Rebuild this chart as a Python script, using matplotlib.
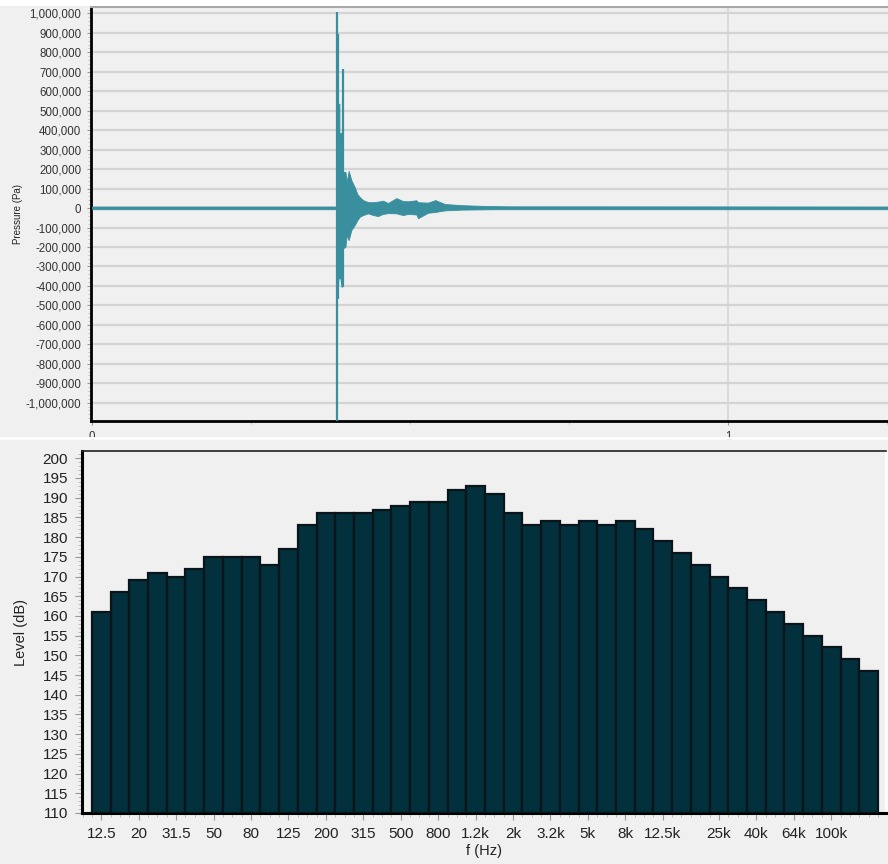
import matplotlib.pyplot as plt
from matplotlib.ticker import MultipleLocator, FuncFormatter
from matplotlib.lines import Line2D

plt.rcParams['font.family'] = ['Liberation Sans', 'DejaVu Sans']

# pressure trace: envelope of the blast record (time s, upper Pa, lower Pa)
env_t = [0.0, 0.3840, 0.3850, 0.3853, 0.3890, 0.3890, 0.3905, 0.3925, 0.3928, 0.3950,
         0.3985, 0.4004, 0.4036, 0.4077, 0.4130, 0.4172, 0.4209, 0.4261, 0.4340, 0.4420,
         0.4497, 0.4575, 0.4654, 0.4785, 0.4890, 0.4969, 0.5100, 0.5126, 0.5283, 0.5398,
         0.5545, 0.5807, 0.6069, 0.6332, 0.6540, 1.26]
env_hi = [8e3, 8e3, 8e3, 536e3, 536e3, 232e3, 232e3, 232e3, 186e3, 186e3,
          186e3, 134e3, 191e3, 144e3, 108e3, 72e3, 57e3, 41e3, 31e3, 30e3,
          33e3, 38e3, 26e3, 51e3, 36e3, 35e3, 40e3, 30e3, 28e3, 41e3,
          21e3, 15e3, 12e3, 10e3, 9e3, 8e3]
env_lo = [-6e3, -6e3, -6e3, -466e3, -300e3, -361e3, -361e3, -407e3, -206e3, -206e3,
          -199e3, -139e3, -165e3, -113e3, -88e3, -62e3, -45e3, -36e3, -27e3, -36e3,
          -41e3, -30e3, -26e3, -27e3, -36e3, -30e3, -33e3, -52e3, -24e3, -20e3,
          -12e3, -8e3, -7e3, -6e3, -6e3, -6e3]

# individual narrow peaks
spike_t = [0.3847, 0.3868, 0.3910, 0.3940]
spike_hi = [1007e3, 892e3, 386e3, 717e3]
spike_lo = [-1095e3, -466e3, -300e3, -407e3]

# 1/3 octave band spectrum
bands = ['12.5', '16', '20', '25', '31.5', '40', '50', '63', '80', '100', '125', '160',
         '200', '250', '315', '400', '500', '630', '800', '1k', '1.2k', '1.6k', '2k', '2.5k',
         '3.2k', '4k', '5k', '6.3k', '8k', '10k', '12.5k', '16k', '20k', '25k', '32k', '40k',
         '50k', '64k', '80k', '100k', '125k', '160k']
levels = [161, 166, 169, 171, 170, 172, 175, 175, 175, 173, 177, 183,
          186, 186, 186, 187, 188, 189, 189, 192, 193, 191, 186, 183,
          184, 183, 184, 183, 184, 182, 179, 176, 173, 170, 167, 164,
          161, 158, 155, 152, 149, 146]
shown = ['12.5', '20', '31.5', '50', '80', '125', '200', '315', '500', '800', '1.2k', '2k',
         '3.2k', '5k', '8k', '12.5k', '25k', '40k', '64k', '100k']

bg = '#f0f0f0'
wave = '#3a8f9f'
fig = plt.figure(figsize=(8.88, 8.64), dpi=100, facecolor=bg)

# ---- top: pressure vs time ----
ax1 = fig.add_axes([91/888, 1-421/864, 1-91/888, (421-7)/864])
ax1.set_facecolor(bg)
ax1.fill_between(env_t, env_lo, env_hi, color=wave, lw=0.6, zorder=3)
ax1.vlines(spike_t, spike_lo, spike_hi, color=wave, lw=1.6, zorder=3)
ax1.set_xlim(-0.0016, 1.2516)
ax1.set_ylim(-1.094e6, 1.033e6)
ax1.yaxis.set_major_locator(MultipleLocator(100000))
ax1.yaxis.set_minor_locator(MultipleLocator(20000))
ax1.yaxis.set_major_formatter(FuncFormatter(lambda v, p: f'{int(round(v)):,}'))
ax1.set_xticks([0, 1])
ax1.set_xticklabels(['0', '1'])
ax1.xaxis.set_minor_locator(MultipleLocator(0.25))
ax1.grid(axis='y', color='#d4d4d4', lw=1.6, zorder=0)
ax1.axvline(1, color='#d6d6d6', lw=1.2, zorder=0)
ax1.tick_params(axis='both', which='major', labelsize=8.3, colors='#999999',
                labelcolor='#333333', length=3, width=0.8, pad=4)
ax1.tick_params(axis='both', which='minor', colors='#bbbbbb', length=2, width=0.6)
ax1.set_ylabel('Pressure (Pa)', fontsize=7, color='#222222')
ax1.yaxis.set_label_coords((23 - 91) / (888 - 91), 0.5)
for s in ['left', 'bottom']:
    ax1.spines[s].set_linewidth(2)
    ax1.spines[s].set_color('black')
ax1.spines['top'].set_color('#a8a8a8')
ax1.spines['top'].set_linewidth(1.5)
ax1.spines['right'].set_visible(False)

# ---- bottom: band levels ----
ax2 = fig.add_axes([82/888, 1-813/864, (886-82)/888, (813-451)/864])
ax2.set_facecolor(bg)
x = list(range(len(bands)))
ax2.bar(x, [v - 110 for v in levels], bottom=110, width=1.0,
        color='#02303c', edgecolor='#0b1418', linewidth=1.6, zorder=3)
ax2.set_xlim(-1.03, 41.93)
ax2.set_ylim(110, 201.85)
ax2.yaxis.set_major_locator(MultipleLocator(5))
ax2.yaxis.set_minor_locator(MultipleLocator(1))
ax2.set_xticks([bands.index(s) for s in shown])
ax2.set_xticklabels(shown)
ax2.xaxis.set_minor_locator(MultipleLocator(0.5))
ax2.tick_params(axis='both', which='major', labelsize=11, colors='#999999',
                labelcolor='#222222', length=5, width=0.8, pad=5)
ax2.tick_params(axis='both', which='minor', colors='#b5b5b5', length=3, width=0.6)
ax2.set_xlabel('f (Hz)', fontsize=10.5, color='#222222', labelpad=2)
ax2.set_ylabel('Level (dB)', fontsize=10.5, color='#222222')
ax2.yaxis.set_label_coords((28 - 82) / 804, 0.5)
for s in ['left', 'bottom']:
    ax2.spines[s].set_linewidth(2.2)
    ax2.spines[s].set_color('black')
ax2.spines['top'].set_linewidth(1.2)
ax2.spines['top'].set_color('#222222')
ax2.spines['right'].set_linewidth(2)
ax2.spines['right'].set_color('white')

# white strips framing the two panels
fig.add_artist(Line2D([0, 1], [1-438/864, 1-438/864], color='white', lw=2))
fig.add_artist(Line2D([0, 1], [1-2/864, 1-2/864], color='white', lw=5))

fig.savefig('out.png', dpi=100, facecolor=bg)
